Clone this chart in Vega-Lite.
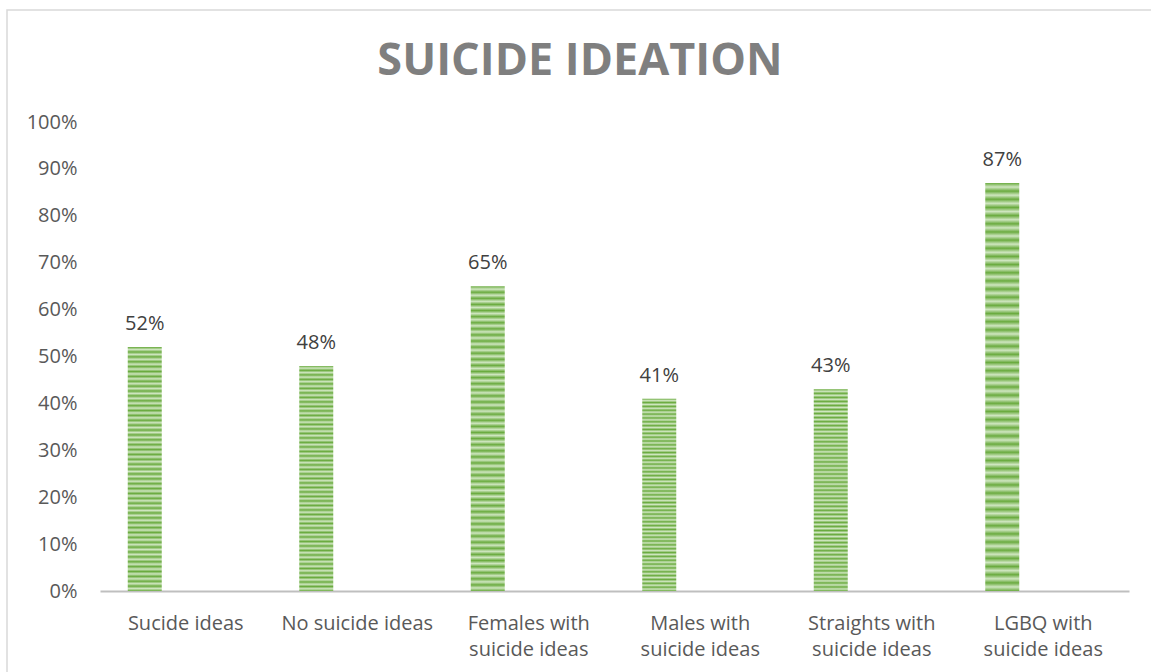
{
  "$schema": "https://vega.github.io/schema/vega-lite/v6.json",
  "width": 1146,
  "height": 664,
  "autosize": {"type": "none"},
  "padding": {"left": 7, "top": 10, "right": 0, "bottom": 0},
  "background": "white",
  "config": {
    "view": {"stroke": "#d9d9d9", "strokeWidth": 1.5},
    "font": "Open Sans"
  },
  "title": {
    "text": "SUICIDE IDEATION",
    "fontSize": 45,
    "fontWeight": "bold",
    "color": "#7f7f7f",
    "anchor": "middle",
    "frame": "group",
    "offset": -42,
    "baseline": "alphabetic",
    "dy": 68
  },
  "data": {
    "values": [
      {"category": "Sucide ideas", "value": 0.52},
      {"category": "No suicide ideas", "value": 0.48},
      {"category": "Females with suicide ideas", "value": 0.65},
      {"category": "Males with suicide ideas", "value": 0.41},
      {"category": "Straights with suicide ideas", "value": 0.43},
      {"category": "LGBQ with suicide ideas", "value": 0.87}
    ]
  },
  "encoding": {
    "x": {
      "field": "category",
      "type": "nominal",
      "sort": null,
      "scale": {"range": [93, 1122], "paddingInner": 0, "paddingOuter": 0},
      "axis": {
        "title": null,
        "offset": -83,
        "domainColor": "#bfbfbf",
        "domainWidth": 2,
        "ticks": false,
        "tickSize": 0,
        "labelPadding": 22,
        "labelFontSize": 20,
        "labelColor": "#595959",
        "labelAngle": 0,
        "labelLineHeight": 26,
        "labelBaseline": "top",
        "labelExpr": "split(replace(datum.value, 'with ', 'with|'), '|')"
      }
    },
    "y": {
      "field": "value",
      "type": "quantitative",
      "scale": {"domain": [0, 1], "range": [581, 112]},
      "axis": {
        "title": null,
        "offset": -70,
        "domain": false,
        "ticks": false,
        "tickSize": 0,
        "grid": false,
        "labelPadding": 0,
        "labelFlush": false,
        "labelOverlap": false,
        "values": [0, 0.1, 0.2, 0.3, 0.4, 0.5, 0.6, 0.7, 0.8, 0.9, 1],
        "format": ".0%",
        "labelFontSize": 20,
        "labelColor": "#595959"
      }
    }
  },
  "layer": [
    {
      "mark": {
        "type": "bar",
        "width": 34,
        "xOffset": -41,
        "fill": {
          "gradient": "linear",
          "x1": 0, "y1": 0, "x2": 0, "y2": 1,
          "stops": [
            {"offset": 0.00, "color": "#6aab3f"}, {"offset": 0.01, "color": "#cfe6c0"},
            {"offset": 0.02, "color": "#6aab3f"}, {"offset": 0.03, "color": "#cfe6c0"},
            {"offset": 0.04, "color": "#6aab3f"}, {"offset": 0.05, "color": "#cfe6c0"},
            {"offset": 0.06, "color": "#6aab3f"}, {"offset": 0.07, "color": "#cfe6c0"},
            {"offset": 0.08, "color": "#6aab3f"}, {"offset": 0.09, "color": "#cfe6c0"},
            {"offset": 0.10, "color": "#6aab3f"}, {"offset": 0.11, "color": "#cfe6c0"},
            {"offset": 0.12, "color": "#6aab3f"}, {"offset": 0.13, "color": "#cfe6c0"},
            {"offset": 0.14, "color": "#6aab3f"}, {"offset": 0.15, "color": "#cfe6c0"},
            {"offset": 0.16, "color": "#6aab3f"}, {"offset": 0.17, "color": "#cfe6c0"},
            {"offset": 0.18, "color": "#6aab3f"}, {"offset": 0.19, "color": "#cfe6c0"},
            {"offset": 0.20, "color": "#6aab3f"}, {"offset": 0.21, "color": "#cfe6c0"},
            {"offset": 0.22, "color": "#6aab3f"}, {"offset": 0.23, "color": "#cfe6c0"},
            {"offset": 0.24, "color": "#6aab3f"}, {"offset": 0.25, "color": "#cfe6c0"},
            {"offset": 0.26, "color": "#6aab3f"}, {"offset": 0.27, "color": "#cfe6c0"},
            {"offset": 0.28, "color": "#6aab3f"}, {"offset": 0.29, "color": "#cfe6c0"},
            {"offset": 0.30, "color": "#6aab3f"}, {"offset": 0.31, "color": "#cfe6c0"},
            {"offset": 0.32, "color": "#6aab3f"}, {"offset": 0.33, "color": "#cfe6c0"},
            {"offset": 0.34, "color": "#6aab3f"}, {"offset": 0.35, "color": "#cfe6c0"},
            {"offset": 0.36, "color": "#6aab3f"}, {"offset": 0.37, "color": "#cfe6c0"},
            {"offset": 0.38, "color": "#6aab3f"}, {"offset": 0.39, "color": "#cfe6c0"},
            {"offset": 0.40, "color": "#6aab3f"}, {"offset": 0.41, "color": "#cfe6c0"},
            {"offset": 0.42, "color": "#6aab3f"}, {"offset": 0.43, "color": "#cfe6c0"},
            {"offset": 0.44, "color": "#6aab3f"}, {"offset": 0.45, "color": "#cfe6c0"},
            {"offset": 0.46, "color": "#6aab3f"}, {"offset": 0.47, "color": "#cfe6c0"},
            {"offset": 0.48, "color": "#6aab3f"}, {"offset": 0.49, "color": "#cfe6c0"},
            {"offset": 0.50, "color": "#6aab3f"}, {"offset": 0.51, "color": "#cfe6c0"},
            {"offset": 0.52, "color": "#6aab3f"}, {"offset": 0.53, "color": "#cfe6c0"},
            {"offset": 0.54, "color": "#6aab3f"}, {"offset": 0.55, "color": "#cfe6c0"},
            {"offset": 0.56, "color": "#6aab3f"}, {"offset": 0.57, "color": "#cfe6c0"},
            {"offset": 0.58, "color": "#6aab3f"}, {"offset": 0.59, "color": "#cfe6c0"},
            {"offset": 0.60, "color": "#6aab3f"}, {"offset": 0.61, "color": "#cfe6c0"},
            {"offset": 0.62, "color": "#6aab3f"}, {"offset": 0.63, "color": "#cfe6c0"},
            {"offset": 0.64, "color": "#6aab3f"}, {"offset": 0.65, "color": "#cfe6c0"},
            {"offset": 0.66, "color": "#6aab3f"}, {"offset": 0.67, "color": "#cfe6c0"},
            {"offset": 0.68, "color": "#6aab3f"}, {"offset": 0.69, "color": "#cfe6c0"},
            {"offset": 0.70, "color": "#6aab3f"}, {"offset": 0.71, "color": "#cfe6c0"},
            {"offset": 0.72, "color": "#6aab3f"}, {"offset": 0.73, "color": "#cfe6c0"},
            {"offset": 0.74, "color": "#6aab3f"}, {"offset": 0.75, "color": "#cfe6c0"},
            {"offset": 0.76, "color": "#6aab3f"}, {"offset": 0.77, "color": "#cfe6c0"},
            {"offset": 0.78, "color": "#6aab3f"}, {"offset": 0.79, "color": "#cfe6c0"},
            {"offset": 0.80, "color": "#6aab3f"}, {"offset": 0.81, "color": "#cfe6c0"},
            {"offset": 0.82, "color": "#6aab3f"}, {"offset": 0.83, "color": "#cfe6c0"},
            {"offset": 0.84, "color": "#6aab3f"}, {"offset": 0.85, "color": "#cfe6c0"},
            {"offset": 0.86, "color": "#6aab3f"}, {"offset": 0.87, "color": "#cfe6c0"},
            {"offset": 0.88, "color": "#6aab3f"}, {"offset": 0.89, "color": "#cfe6c0"},
            {"offset": 0.90, "color": "#6aab3f"}, {"offset": 0.91, "color": "#cfe6c0"},
            {"offset": 0.92, "color": "#6aab3f"}, {"offset": 0.93, "color": "#cfe6c0"},
            {"offset": 0.94, "color": "#6aab3f"}, {"offset": 0.95, "color": "#cfe6c0"},
            {"offset": 0.96, "color": "#6aab3f"}, {"offset": 0.97, "color": "#cfe6c0"},
            {"offset": 0.98, "color": "#6aab3f"}, {"offset": 0.99, "color": "#cfe6c0"},
            {"offset": 1.00, "color": "#6aab3f"}
          ]
        }
      }
    },
    {
      "mark": {
        "type": "text",
        "xOffset": -41,
        "dy": -17,
        "baseline": "alphabetic",
        "fontSize": 20,
        "color": "#404040"
      },
      "encoding": {
        "text": {"field": "value", "type": "quantitative", "format": ".0%"}
      }
    }
  ]
}
